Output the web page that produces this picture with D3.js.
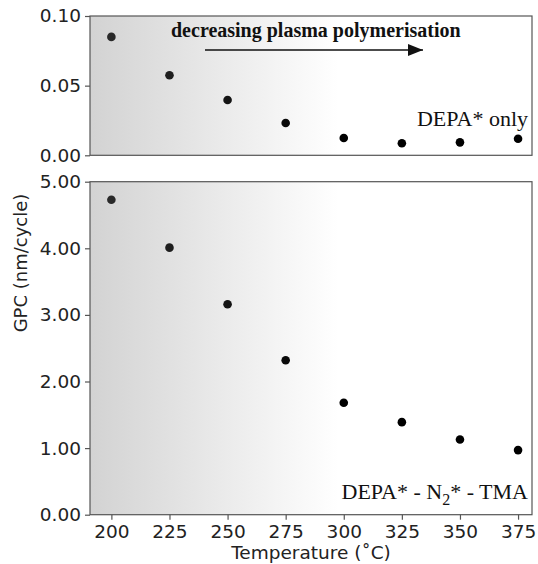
<!DOCTYPE html>
<html>
<head>
<meta charset="utf-8">
<script src="https://cdn.jsdelivr.net/npm/d3@7"></script>
<style>
  body { margin: 0; background: #fff; }
  svg { display: block; }
</style>
</head>
<body>
<svg id="chart" width="538" height="564"></svg>
<script>
// Data
const temperatures = [200, 225, 250, 275, 300, 325, 350, 375];
const gpcDepaOnly = [0.085, 0.0575, 0.0397, 0.0232, 0.0124, 0.0086, 0.0093, 0.0119];
const gpcDepaN2Tma = [4.73, 4.01, 3.16, 2.32, 1.68, 1.39, 1.13, 0.97];
const xTicks = [200, 225, 250, 275, 300, 325, 350, 375];
const topTicks = [0, 0.05, 0.10];
const bottomTicks = [0, 1, 2, 3, 4, 5];

const svg = d3.select('#chart');
const left = 90, right = 532;
const spine = '#555';
const tickFont = '18.5px "DejaVu Sans"';

const x = d3.scaleLinear().domain([190.8, 381]).range([left, right]);

// gray fade on top of everything in each panel
const defs = svg.append('defs');
const grad = defs.append('linearGradient')
  .attr('id', 'fade')
  .attr('gradientUnits', 'userSpaceOnUse')
  .attr('x1', left).attr('x2', 338).attr('y1', 0).attr('y2', 0);
grad.append('stop').attr('offset', 0).attr('stop-color', '#808080').attr('stop-opacity', 0.35);
grad.append('stop').attr('offset', 1).attr('stop-color', '#808080').attr('stop-opacity', 0);

function panel(top, bottom, values, domain, ticks) {
  const y = d3.scaleLinear().domain(domain).range([bottom, top]);
  const g = svg.append('g');

  g.selectAll('circle')
    .data(temperatures)
    .enter()
    .append('circle')
    .attr('cx', d => x(d))
    .attr('cy', (d, i) => y(values[i]))
    .attr('r', 4.3)
    .attr('fill', '#000');

  g.append('rect')
    .attr('x', left).attr('y', top)
    .attr('width', right - left).attr('height', bottom - top)
    .attr('fill', 'url(#fade)');

  const yAxis = g.append('g')
    .attr('transform', `translate(${left},0)`)
    .call(d3.axisLeft(y).tickValues(ticks).tickFormat(d3.format('.2f')).tickSize(5).tickPadding(4));
  yAxis.select('.domain').remove();
  yAxis.selectAll('line').attr('stroke', spine).attr('stroke-width', 1.2);
  yAxis.selectAll('text').style('font', tickFont).attr('fill', '#222');

  g.append('rect')
    .attr('x', left).attr('y', top)
    .attr('width', right - left).attr('height', bottom - top)
    .attr('fill', 'none').attr('stroke', spine).attr('stroke-width', 1.2);

  return { g, y };
}

const topPanel = panel(16, 155.3, gpcDepaOnly, [0, 0.10], topTicks);
const bottomPanel = panel(181.7, 514.7, gpcDepaN2Tma, [0, 5], bottomTicks);

// x axis on the lower panel
const xAxis = svg.append('g')
  .attr('transform', 'translate(0,514.7)')
  .call(d3.axisBottom(x).tickValues(xTicks).tickSize(5).tickPadding(5));
xAxis.select('.domain').remove();
xAxis.selectAll('line').attr('stroke', spine).attr('stroke-width', 1.2);
xAxis.selectAll('text').style('font', tickFont).attr('fill', '#222');

svg.append('text')
  .attr('x', (left + right) / 2)
  .attr('y', 559)
  .attr('text-anchor', 'middle')
  .style('font', '18.5px "DejaVu Sans"')
  .attr('fill', '#222')
  .text('Temperature (\u02DAC)');

svg.append('text')
  .attr('transform', 'translate(27,263) rotate(-90)')
  .attr('text-anchor', 'middle')
  .style('font', '18px "DejaVu Sans"')
  .attr('fill', '#222')
  .text('GPC (nm/cycle)');

// annotations
topPanel.g.append('text')
  .attr('x', 171).attr('y', 37)
  .style('font', 'bold 20px "Liberation Serif"')
  .attr('fill', '#111')
  .text('decreasing plasma polymerisation');

defs.append('marker')
  .attr('id', 'head')
  .attr('viewBox', '0 0 15 12')
  .attr('refX', 15).attr('refY', 6)
  .attr('markerWidth', 15).attr('markerHeight', 12)
  .attr('markerUnits', 'userSpaceOnUse')
  .attr('orient', 'auto')
  .append('path').attr('d', 'M0,0L15,6L0,12Z').attr('fill', '#111');

topPanel.g.append('line')
  .attr('x1', 205).attr('x2', 423).attr('y1', 50).attr('y2', 50)
  .attr('stroke', '#111').attr('stroke-width', 1.3)
  .attr('marker-end', 'url(#head)');

topPanel.g.append('text')
  .attr('x', 528).attr('y', 126)
  .attr('text-anchor', 'end')
  .style('font', '22px "Liberation Serif"')
  .attr('fill', '#111')
  .text('DEPA* only');

const lab = bottomPanel.g.append('text')
  .attr('x', 528).attr('y', 499)
  .attr('text-anchor', 'end')
  .style('font', '22px "Liberation Serif"')
  .attr('fill', '#111');
lab.append('tspan').text('DEPA* - N');
lab.append('tspan').attr('dy', 6).style('font-size', '16px').text('2');
lab.append('tspan').attr('dy', -6).text('* - TMA');
</script>
</body>
</html>
